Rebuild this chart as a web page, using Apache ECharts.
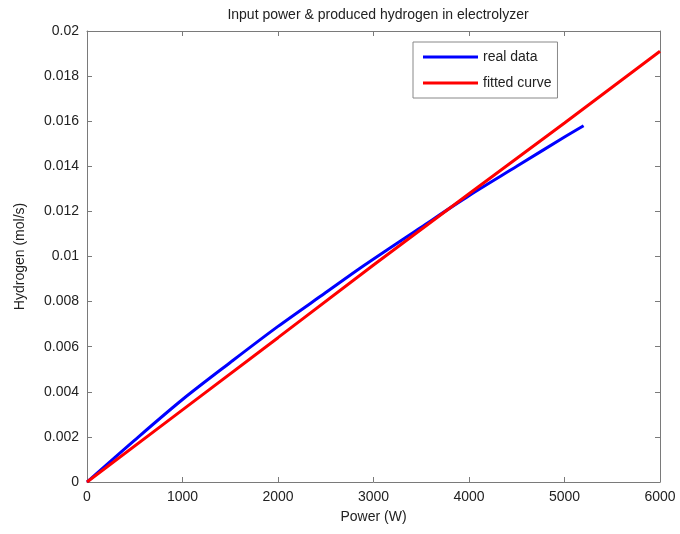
<!DOCTYPE html>
<html>
<head>
<meta charset="utf-8">
<script src="https://cdn.jsdelivr.net/npm/echarts@6/dist/echarts.min.js"></script>
<style>html,body{margin:0;padding:0;background:#fff}#c{width:680px;height:534px}</style>
</head>
<body>
<div id="c"></div>
<script>
const titleText = 'Input power & produced hydrogen in electrolyzer';
const xName = 'Power (W)';
const yName = 'Hydrogen (mol/s)';
const seriesNames = ['real data', 'fitted curve'];

const realPower = [0, 500, 1000, 1500, 2000, 2500, 2900, 3500, 4000, 4500, 5000, 5200];
const realH2 = [0, 0.00186, 0.00366, 0.0053, 0.0069, 0.0084, 0.0096, 0.0113, 0.0127, 0.0140, 0.0153, 0.0158];

const fitPower = [0, 1000, 2000, 3000, 4000, 5000, 6000];
const fitH2 = [0, 0.0032, 0.0064, 0.00962, 0.01278, 0.01592, 0.0191];

const toPairs = (xs, ys) => xs.map((x, i) => [x, ys[i]]);

const chart = echarts.init(document.getElementById('c'));
const font = 'Liberation Sans, Arial, sans-serif';
const axisCol = '#7a7a7a';
const common = () => ({
  axisLine: { show: true, onZero: false, lineStyle: { color: axisCol, width: 1 } },
  axisTick: { show: true, inside: true, length: 5, lineStyle: { color: axisCol } },
  splitLine: { show: false }
});
chart.setOption({
  animation: false,
  backgroundColor: '#fff',
  title: {
    text: titleText, left: 373, top: 3, textAlign: 'center',
    textStyle: { fontFamily: font, fontSize: 14, fontWeight: 'normal', color: '#222' }
  },
  legend: {
    left: 413, top: 42, orient: 'vertical',
    data: seriesNames.map(n => ({ name: n, icon: 'rect' })),
    itemWidth: 55, itemHeight: 3, itemGap: 12,
    padding: [8, 6, 8, 10],
    borderColor: '#888', borderWidth: 1, backgroundColor: '#fff',
    textStyle: { fontFamily: font, fontSize: 14, color: '#222' }
  },
  grid: { left: 87, right: 20, top: 31, bottom: 52 },
  xAxis: [
    Object.assign(common(), {
      type: 'value', min: 0, max: 6000, interval: 1000, position: 'bottom',
      name: xName, nameLocation: 'middle', nameGap: 28,
      nameTextStyle: { fontFamily: font, fontSize: 14, color: '#222' },
      axisLabel: { fontFamily: font, fontSize: 14, color: '#222', margin: 8,
        formatter: v => String(v) }
    }),
    Object.assign(common(), {
      type: 'value', min: 0, max: 6000, interval: 1000, position: 'top',
      axisLabel: { show: false }
    })
  ],
  yAxis: [
    Object.assign(common(), {
      type: 'value', min: 0, max: 0.02, interval: 0.002, position: 'left',
      name: yName, nameLocation: 'middle', nameGap: 60,
      nameTextStyle: { fontFamily: font, fontSize: 14, color: '#222' },
      axisLabel: { fontFamily: font, fontSize: 14, color: '#222', margin: 8,
        formatter: v => String(+v.toFixed(3)) }
    }),
    Object.assign(common(), {
      type: 'value', min: 0, max: 0.02, interval: 0.002, position: 'right',
      axisLabel: { show: false }
    })
  ],
  series: [
    {
      name: seriesNames[0], type: 'line', showSymbol: false, smooth: 0.3,
      data: toPairs(realPower, realH2),
      lineStyle: { color: '#0000ff', width: 3 }, itemStyle: { color: '#0000ff' }, z: 2
    },
    {
      name: seriesNames[1], type: 'line', showSymbol: false,
      data: toPairs(fitPower, fitH2),
      lineStyle: { color: '#ff0000', width: 3 }, itemStyle: { color: '#ff0000' }, z: 3
    }
  ]
});
</script>
</body>
</html>
